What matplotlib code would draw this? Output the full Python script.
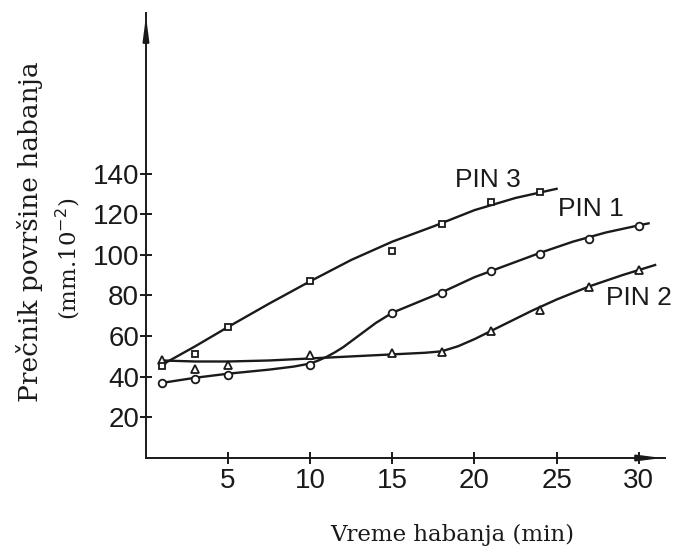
import matplotlib
matplotlib.use("Agg")
import matplotlib.pyplot as plt

# marker data (time in min, diameter in mm*10^-2)
pin1_x = [1, 3, 5, 10, 15, 18, 21, 24, 27, 30]
pin1_y = [37, 39, 41, 46, 71.5, 81, 92, 100.5, 108, 114]
pin2_x = [1, 3, 5, 10, 15, 18, 21, 24, 27, 30]
pin2_y = [48, 44, 46, 50.5, 51.5, 52, 62.5, 73, 84, 92.5]
pin3_x = [1, 3, 5, 10, 15, 18, 21, 24]
pin3_y = [45.5, 51, 64.5, 87, 102, 115, 126, 131]

# hand drawn trend curves
pin1_curve_x = [1, 3, 5, 7.5, 9, 10, 10.5, 11, 11.5, 12, 12.5, 13, 14, 15, 16.5, 18, 20, 22, 24, 26, 28, 30, 30.6]
pin1_curve_y = [37, 39.5, 41.5, 43.5, 45, 46.5, 48, 49.8, 52, 54.5, 57.5, 60.5, 66.5, 71.5, 76.5, 81.5, 89, 95, 101, 106.5, 111, 114.5, 115.5]
pin2_curve_x = [1, 3, 5, 7.5, 10, 12.5, 15, 17, 18, 19, 20, 21, 22, 23.5, 25, 27, 29, 31]
pin2_curve_y = [48, 47.5, 47.5, 48, 49, 50, 51, 51.8, 52.5, 55, 58.5, 62.5, 66.5, 72.5, 78, 84.5, 90, 95]
pin3_curve_x = [1, 3, 5, 7.5, 10, 12.5, 15, 17.5, 20, 22.5, 25]
pin3_curve_y = [46, 55, 64.5, 76, 87, 97.5, 106.5, 114, 122, 128, 132.5]

x_ticks = [5, 10, 15, 20, 25, 30]
y_ticks = [20, 40, 60, 80, 100, 120, 140]

tick_font = ["Liberation Sans", "DejaVu Sans"]
label_font = ["DejaVu Serif"]
ink = "#1a1a1a"

fig = plt.figure(figsize=(6.78, 5.52), dpi=100)
ax = fig.add_axes([0.2153, 0.1703, 0.7655, 0.806])
ax.set_xlim(0, 31.6)
ax.set_ylim(0, 219)

for cx, cy in [(pin1_curve_x, pin1_curve_y), (pin2_curve_x, pin2_curve_y), (pin3_curve_x, pin3_curve_y)]:
    ax.plot(cx, cy, color=ink, lw=1.7, zorder=2, solid_joinstyle="round")

ax.plot(pin1_x, pin1_y, "o", ms=5.5, mfc="white", mec=ink, mew=1.3, ls="none", zorder=3)
ax.plot(pin2_x, pin2_y, "^", ms=5.5, mfc="white", mec=ink, mew=1.3, ls="none", zorder=3)
ax.plot(pin3_x, pin3_y, "s", ms=5, mfc="white", mec=ink, mew=1.3, ls="none", zorder=3)

ax.text(20.8, 137, "PIN 3", fontsize=19, family=tick_font, ha="center", va="center", color=ink)
ax.text(27.1, 122.5, "PIN 1", fontsize=19, family=tick_font, ha="center", va="center", color=ink)
ax.text(30.0, 79, "PIN 2", fontsize=19, family=tick_font, ha="center", va="center", color=ink)

for s in ["top", "right"]:
    ax.spines[s].set_visible(False)
for s in ["left", "bottom"]:
    ax.spines[s].set_color(ink)
    ax.spines[s].set_linewidth(1.4)

# arrow heads on the axes
ax.annotate("", xy=(0, 1.0), xytext=(0, 0.93), xycoords="axes fraction",
            arrowprops=dict(arrowstyle="-|>,head_length=1.4,head_width=0.18", color=ink, lw=1.4))
ax.annotate("", xy=(1.0, 0), xytext=(0.95, 0), xycoords="axes fraction",
            arrowprops=dict(arrowstyle="-|>,head_length=1.4,head_width=0.18", color=ink, lw=1.4))

ax.set_xticks(x_ticks)
ax.set_yticks(y_ticks)
ax.tick_params(direction="inout", length=8, width=1.4, color=ink, labelcolor=ink, pad=3)
ax.tick_params(axis="y", pad=1)
for lab in ax.get_xticklabels() + ax.get_yticklabels():
    lab.set_fontfamily(tick_font)
    lab.set_fontsize(20)

fig.text(0.043, 0.581, "Prečnik površine habanja", rotation=90, ha="center", va="center",
         fontsize=19, family=label_font, color=ink)
fig.text(0.1, 0.531, "(mm.10$^{-2}$)", rotation=90, ha="center", va="center",
         fontsize=16.5, family=label_font, color=ink)
fig.text(0.667, 0.031, "Vreme habanja (min)", ha="center", va="center",
         fontsize=16.5, family=label_font, color=ink)

fig.savefig("out.png", dpi=100)
